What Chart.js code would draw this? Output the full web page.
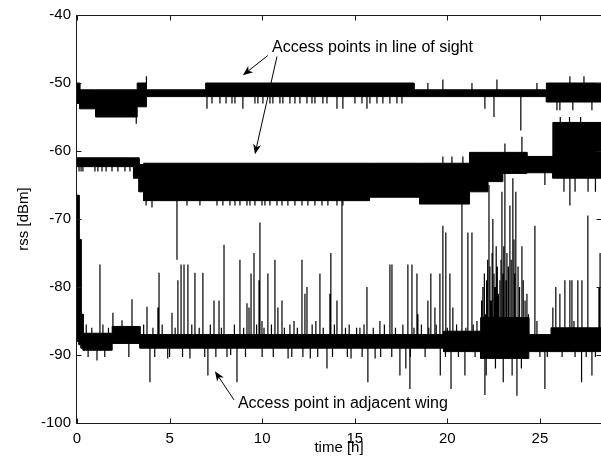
<!DOCTYPE html>
<html><head><meta charset="utf-8">
<script src="https://cdn.jsdelivr.net/npm/chart.js@4.4.1/dist/chart.umd.min.js"></script>
<style>html,body{margin:0;padding:0;background:#fff;overflow:hidden}#wrap{width:601px;height:470px}</style>
</head><body><div id="wrap"><canvas id="c" width="601" height="470"></canvas></div>
<script>
// ---------------- data (time in h, rss in dBm) ----------------
const xTicks = [0, 5, 10, 15, 20, 25];
const yTicks = [-100, -90, -80, -70, -60, -50, -40];

// Access point 1 (line of sight, upper trace): band segments
const ap1Start = [0, 0.15, 1.0, 3.25, 3.75, 6.95, 18.2, 25.35];
const ap1End   = [0.15, 1.0, 3.25, 3.75, 6.95, 18.2, 25.35, 28.3];
const ap1Lo    = [-53, -53.8, -55, -53.5, -52, -52, -52, -52.8];
const ap1Hi    = [-50, -51, -51, -50, -51, -50, -51, -50];
// Access point 1: isolated excursions
const ap1SpikeT = [3.2, 3.75, 7.02, 7.29, 7.72, 8.05, 8.37, 8.53, 8.96,
  9.61, 9.77, 10.04, 10.42, 10.58, 10.96, 11.12, 11.50, 11.77, 12.04, 12.42,
  12.69, 12.85, 13.28, 13.50, 14.04, 14.36, 15.01, 15.39, 15.66, 15.82,
  16.20, 16.52, 16.90, 17.28, 17.55, 18.95, 19.76, 21.33, 22.03, 22.52,
  22.68, 23.97, 24.84, 25.92, 26.08, 26.62, 26.78, 27.38, 27.81];
const ap1SpikeV = [-56, -49, -53.8, -53, -53, -53, -53, -53, -53.8,
  -53, -53, -53, -53, -53, -53, -53, -53, -53, -53, -53,
  -53, -53, -53, -53, -53.8, -53.8, -53, -53, -53.8, -53,
  -53, -53, -53, -53, -53, -50, -49.5, -50, -53.8, -55,
  -49.5, -57, -50, -54, -54, -49, -54, -49, -54];

// Access point 2 (line of sight, middle trace): band segments
const ap2Start = [0, 3.05, 3.35, 3.6, 15.8, 18.5, 21.2, 22.2, 23.0, 24.3, 25.7];
const ap2End   = [3.05, 3.35, 3.6, 15.8, 18.5, 21.2, 22.2, 23.0, 24.3, 25.7, 28.3];
const ap2Lo    = [-62.3, -64, -66, -67.3, -66.8, -67.8, -66, -64.5, -63.3, -63.2, -64];
const ap2Hi    = [-61, -61, -62, -61.8, -61.8, -61.8, -60.2, -60.2, -60.2, -60.8, -55.8];
const ap2SpikeT = [0.11, 0.22, 0.32, 0.97, 1.13, 1.35, 1.57, 1.89, 2.21, 2.59, 2.86,
  3.73, 4.05, 5.40, 5.94, 6.64, 7.56, 7.88, 8.26, 8.53, 8.80,
  9.18, 9.34, 9.61, 9.99, 10.15, 10.42, 10.80,
  11.07, 11.39, 11.77, 12.15, 12.47, 12.85, 13.23, 13.55, 14.04, 14.36,
  19.76, 20.25, 20.84, 23.11, 24.03, 25.27,
  26.1, 26.3, 26.6, 26.62, 26.9, 27.2, 27.6, 28.0];
const ap2SpikeV = [-63, -63, -63, -63, -63, -63, -63, -63, -63, -63, -63,
  -68, -68.3, -76, -68, -68, -68, -68, -68, -68, -68,
  -68, -68, -68, -68, -68, -68, -68,
  -68, -68, -68, -68, -68, -68, -68, -68, -68, -68,
  -60.8, -60.8, -60.8, -58.9, -57.9, -65,
  -55, -66, -55, -68, -66, -55, -66, -66];

// Access point 3 (adjacent wing, lower trace): band segments
const ap3Start = [0, 0.11, 0.22, 0.33, 1.9, 3.4, 19.8, 21.8, 24.4, 25.6];
const ap3End   = [0.11, 0.22, 0.33, 1.9, 3.4, 19.8, 21.8, 24.4, 25.6, 28.3];
const ap3Lo    = [-88, -88.5, -89, -89.3, -88.3, -89, -89.5, -90.5, -89.5, -89.5];
const ap3Hi    = [-66.5, -73, -84, -86.8, -85.8, -87, -86.5, -84.5, -87, -86];
// large excursions
const ap3SpikeT = [1.08, 1.24, 1.94, 2.43, 2.97, 3.78, 3.94, 4.37, 4.43, 4.9,
  5.13, 5.45, 5.62, 5.78, 5.99, 6.1, 6.37, 6.8, 7.07, 7.4,
  7.67, 7.94, 8.3, 8.64, 8.8, 9.18, 9.29, 9.4, 9.56, 9.83,
  9.88, 9.99, 10.31, 10.69, 10.85, 11.07, 11.4, 11.72, 12.15, 12.31,
  12.42, 12.6, 12.9, 13.12, 13.5, 13.66, 13.71, 14.04, 14.31, 14.8,
  15.28, 15.66, 15.71, 16.1, 16.36, 16.9, 17.01, 17.44, 17.76, 17.87,
  17.98, 18.09, 18.36, 18.41, 18.95, 19.11, 19.33, 19.6, 19.62, 19.76,
  19.92, 20.14, 20.2, 20.3, 20.79, 20.95, 21.11, 21.33, 21.6, 22.03,
  22.25, 22.46, 22.84, 22.95, 23.11, 23.38, 23.54, 23.7, 23.76, 24.03,
  24.3, 24.73, 24.84, 25.27, 25.7, 25.86, 26.08, 26.35, 26.62, 26.73,
  26.84, 27.05, 27.25, 27.27, 27.59, 27.81, 28.19, 28.25];
const ap3SpikeV = [-90.8, -76.7, -83.8, -84.9, -81.8, -82.9, -94, -83, -77.9, -90.5,
  -83.8, -79, -76.7, -76.7, -76.7, -90.5, -77.9, -77.9, -93, -82,
  -82, -73.8, -90, -94, -76, -82.4, -83, -78, -75, -79,
  -70.5, -85, -78, -76, -83, -82, -90.5, -85, -76, -81,
  -80, -90.5, -85, -78, -92, -81, -75, -82, -66, -90.5,
  -86, -80, -94, -90.5, -85, -76.7, -76.7, -93, -92, -76.7,
  -95, -76.7, -78, -84, -82, -78, -83, -78, -93, -71,
  -72, -78, -95, -83, -66, -93, -72, -72, -85, -95.9,
  -65, -70, -79, -66, -63, -68, -64, -66, -96, -74,
  -81, -71, -85, -95, -83, -80, -81, -79, -79, -79,
  -85, -79, -94, -79, -69.5, -93, -80, -75];
// dense burst between 21.8 h and 24.4 h
const ap3BurstT = [21.85, 21.92, 22.0, 22.07, 22.1, 22.12, 22.18, 22.3, 22.36, 22.42,
  22.52, 22.58, 22.6, 22.64, 22.7, 22.76, 22.9, 23.0, 23.02, 23.05,
  23.17, 23.22, 23.3, 23.45, 23.5, 23.6, 23.65, 23.82, 23.9, 24.0,
  24.1, 24.2, 24.38];
const ap3BurstV = [-82, -80, -78, -84, -93, -79, -76, -77, -82, -75,
  -78, -80, -92, -74, -77, -81, -76, -78, -94, -74,
  -79, -75, -77, -76, -93, -73, -78, -77, -80, -92,
  -79, -82, -84];
// small ticks around the baseline
const ap3TickT = [0.5, 0.6, 0.8, 1.4, 1.5, 1.7, 2.8, 3.6, 4.1, 4.2, 4.6, 5.0, 5.3, 5.7,
  6.2, 6.6, 6.9, 7.2, 7.5, 7.8, 8.1, 8.5, 9.0, 9.1, 9.7, 10.0, 10.1, 10.5, 10.6,
  11.2, 11.5, 11.6, 11.9, 12.2, 12.7, 13.0, 13.3, 13.8, 13.9, 14.5, 14.6, 14.7,
  15.1, 15.4, 15.5, 16.0, 16.4, 16.6, 17.0, 17.2, 17.6, 18.0, 18.2, 18.6, 18.8,
  19.0, 19.4, 19.9, 20.0, 20.5, 20.6, 21.0, 21.4, 21.5, 25.0, 25.4, 26.2, 26.9,
  27.5, 28.0];
const ap3TickV = [-85.5, -90.3, -86, -85.5, -90.3, -86, -90.3, -85.5, -86, -90.3, -85.5, -90.3, -86, -90.3,
  -85.5, -86, -90.3, -85.5, -90.3, -86, -90.3, -85.5, -86, -90.3, -85.5, -90.3, -86, -85.5, -90.3,
  -86, -85.5, -90.3, -86, -90.3, -85.5, -90.3, -86, -90.3, -85.5, -86, -90.3, -85.5,
  -86, -90.3, -85.5, -86, -90.3, -85.5, -90.3, -86, -85.5, -90.3, -86, -85.5, -90.3,
  -86, -85.5, -90.3, -86, -85.5, -90.3, -86, -85.5, -90.3, -90.3, -90.3, -90.3, -90.3,
  -90.3, -90.3];

// annotations: [text, t, rss(baseline)] and arrows [tailT, tailV, tipT, tipV]
const noteLOS = ["Access points in line of sight", 10.53, -45.4];
const noteAdj = ["Access point in adjacent wing", 8.69, -97.8];
const arrows = [[10.31, -45.95, 8.96, -48.85], [10.8, -46.1, 9.61, -60.46], [8.48, -96.6, 7.45, -92.4]];

// ---------------- build datasets ----------------
function bandPts(s, e, v) {
  const p = [];
  for (let i = 0; i < s.length; i++) { p.push({x: s[i], y: v[i]}, {x: e[i], y: v[i]}); }
  return p;
}
function bandMid(s, e, lo, hi, t) {
  for (let i = 0; i < s.length; i++) if (t >= s[i] && t <= e[i]) return (lo[i] + hi[i]) / 2;
  return (lo[lo.length - 1] + hi[hi.length - 1]) / 2;
}
function spikePts(ts, vs, s, e, lo, hi) {
  const p = [];
  ts.forEach((t, i) => { p.push({x: t, y: bandMid(s, e, lo, hi, t)}, {x: t, y: vs[i]}, {x: t, y: null}); });
  return p;
}
const K = '#000';
function bandSets(s, e, lo, hi) {
  return [
    {data: bandPts(s, e, hi), borderColor: K, backgroundColor: K, borderWidth: 1, pointRadius: 0, fill: false},
    {data: bandPts(s, e, lo), borderColor: K, backgroundColor: K, borderWidth: 1, pointRadius: 0, fill: '-1'}
  ];
}
function spikeSet(ts, vs, s, e, lo, hi) {
  return {data: spikePts(ts, vs, s, e, lo, hi), borderColor: K, borderWidth: 1.2, pointRadius: 0, fill: false, spanGaps: false};
}
const datasets = [
  ...bandSets(ap1Start, ap1End, ap1Lo, ap1Hi),
  ...bandSets(ap2Start, ap2End, ap2Lo, ap2Hi),
  ...bandSets(ap3Start, ap3End, ap3Lo, ap3Hi),
  spikeSet(ap1SpikeT, ap1SpikeV, ap1Start, ap1End, ap1Lo, ap1Hi),
  spikeSet(ap2SpikeT, ap2SpikeV, ap2Start, ap2End, ap2Lo, ap2Hi),
  spikeSet(ap3SpikeT, ap3SpikeV, ap3Start, ap3End, ap3Lo, ap3Hi),
  spikeSet(ap3BurstT, ap3BurstV, ap3Start, ap3End, ap3Lo, ap3Hi),
  spikeSet(ap3TickT, ap3TickV, ap3Start, ap3End, ap3Lo, ap3Hi)
];

const FONT = 'Liberation Sans, Arial, sans-serif';

const framePlugin = {
  id: 'frame',
  afterDraw(chart) {
    const {ctx, chartArea: a, scales: {x, y}} = chart;
    ctx.save();
    ctx.strokeStyle = '#1a1a1a';
    ctx.lineWidth = 1;
    const L = Math.round(a.left) - 0.5, R = Math.round(a.right) + 0.5;
    const T = Math.round(a.top) + 0.5, B = Math.round(a.bottom) + 0.5;
    ctx.beginPath();
    ctx.moveTo(L, T); ctx.lineTo(R, T); ctx.lineTo(R, B); ctx.lineTo(L, B); ctx.closePath();
    const tl = 5;
    xTicks.forEach(v => {
      const px = Math.round(x.getPixelForValue(v)) + 0.5;
      ctx.moveTo(px, B); ctx.lineTo(px, B - tl);
      ctx.moveTo(px, T); ctx.lineTo(px, T + tl);
    });
    yTicks.forEach(v => {
      const py = Math.round(y.getPixelForValue(v)) + 0.5;
      ctx.moveTo(L, py); ctx.lineTo(L + tl, py);
      ctx.moveTo(R, py); ctx.lineTo(R - tl, py);
    });
    ctx.stroke();

    // annotations
    ctx.fillStyle = '#000';
    ctx.font = '16px ' + FONT;
    ctx.textBaseline = 'alphabetic';
    ctx.textAlign = 'left';
    [noteLOS, noteAdj].forEach(n => ctx.fillText(n[0], x.getPixelForValue(n[1]), y.getPixelForValue(n[2])));
    arrows.forEach(ar => {
      const x0 = x.getPixelForValue(ar[0]), y0 = y.getPixelForValue(ar[1]);
      const x1 = x.getPixelForValue(ar[2]), y1 = y.getPixelForValue(ar[3]);
      const ang = Math.atan2(y1 - y0, x1 - x0);
      const len = 10, hw = 4;
      ctx.strokeStyle = '#000';
      ctx.beginPath(); ctx.moveTo(x0, y0);
      ctx.lineTo(x1 - Math.cos(ang) * 6, y1 - Math.sin(ang) * 6); ctx.stroke();
      const bx = x1 - Math.cos(ang) * len, by = y1 - Math.sin(ang) * len;
      const nx = x1 - Math.cos(ang) * (len - 3), ny = y1 - Math.sin(ang) * (len - 3);
      ctx.beginPath();
      ctx.moveTo(x1, y1);
      ctx.lineTo(bx - Math.sin(ang) * hw, by + Math.cos(ang) * hw);
      ctx.lineTo(nx, ny);
      ctx.lineTo(bx + Math.sin(ang) * hw, by - Math.cos(ang) * hw);
      ctx.closePath(); ctx.fill();
    });
    ctx.restore();
  }
};

new Chart(document.getElementById('c'), {
  type: 'line',
  data: {datasets},
  options: {
    responsive: false,
    animation: false,
    events: [],
    layout: {padding: {top: 10, left: 0, right: 0, bottom: 0}},
    plugins: {legend: {display: false}, tooltip: {enabled: false}},
    elements: {line: {tension: 0}},
    scales: {
      x: {
        type: 'linear', min: 0, max: 28.3, offset: false,
        grid: {display: false, drawTicks: false}, border: {display: false},
        afterBuildTicks: s => { s.ticks = xTicks.map(v => ({value: v})); },
        afterFit: s => { s.height = 47; },
        ticks: {padding: 7, color: '#000', font: {family: FONT, size: 15}, maxRotation: 0, autoSkip: false},
        title: {display: true, text: 'time [h]', color: '#000', font: {family: FONT, size: 15}, padding: {top: 0, bottom: 13}}
      },
      y: {
        type: 'linear', min: -100, max: -40,
        grid: {display: false, drawTicks: false}, border: {display: false},
        afterBuildTicks: s => { s.ticks = yTicks.map(v => ({value: v})); },
        afterFit: s => { s.width = 77; },
        ticks: {padding: 6, color: '#000', font: {family: FONT, size: 15}, autoSkip: false},
        title: {display: true, text: 'rss [dBm]', color: '#000', font: {family: FONT, size: 15}, padding: {top: 15, bottom: 0}}
      }
    }
  },
  plugins: [framePlugin]
});
</script></body></html>
